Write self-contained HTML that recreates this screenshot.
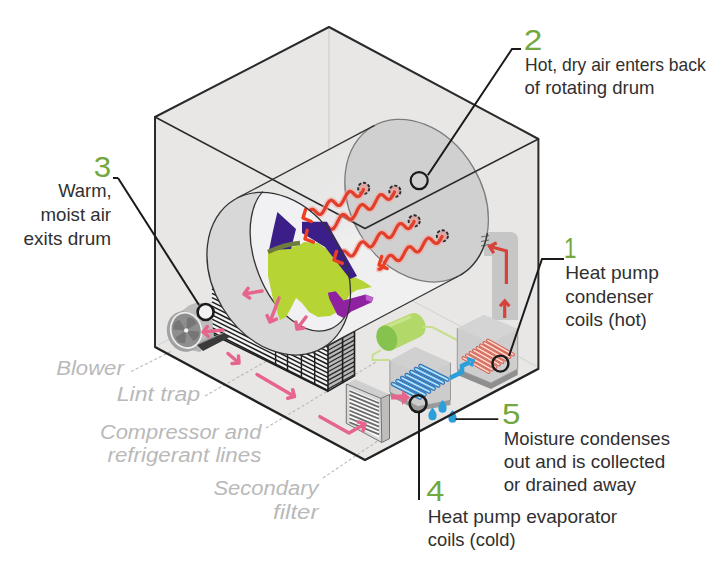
<!DOCTYPE html>
<html><head><meta charset="utf-8"><style>
html,body{margin:0;padding:0;background:#fff;width:720px;height:573px;overflow:hidden}
svg{display:block}
.t{font-family:"Liberation Sans",sans-serif;font-size:18.2px;fill:#303030}
.g{font-family:"Liberation Sans",sans-serif;font-size:30px;fill:#72a83f}
.i{font-family:"Liberation Sans",sans-serif;font-size:20px;font-style:italic;fill:#b9b9b9}
</style></head><body>
<svg width="720" height="573" viewBox="0 0 720 573">
<rect width="720" height="573" fill="#fff"/>
<polygon points="155,117 329,27 538.4,139 538.4,369 365,460 155,347" fill="#e8e7e6"/>
<g stroke="#d0d0d0" stroke-width="1" fill="none">
<polyline points="158,345 329,257 538,367"/>
</g>
<line x1="329" y1="27" x2="329" y2="150" stroke="#cfcfcf" stroke-width="1.2"/>
<g stroke="#b9b9b9" stroke-width="1.1" fill="none" stroke-dasharray="3 2.2">
<line x1="131" y1="371.5" x2="172" y2="351"/>
<line x1="205" y1="396" x2="272" y2="358"/>
<line x1="266" y1="428" x2="376" y2="362"/>
<line x1="323" y1="478" x2="385" y2="436"/>
</g>
<polygon points="212,287 328,344.4 328,391.2 212,334" fill="#f4f4f4"/>
<path d="M212 289.0 L328 347.3 M212 293.3 L328 351.6 M212 297.6 L328 355.9 M212 301.9 L328 360.2 M212 306.2 L328 364.5 M212 310.5 L328 368.8 M212 314.8 L328 373.1 M212 319.1 L328 377.4 M212 323.4 L328 381.7 M212 327.7 L328 386.0 M212 332.0 L328 390.3" stroke="#1e1e1e" stroke-width="1.5" fill="none"/>
<path d="M275.6 318.5 V365.4 M287.5 324.4 V371.2 M301.4 331.3 V378.1 M314.7 337.8 V384.6" stroke="#1e1e1e" stroke-width="1.4"/>
<polygon points="328,344.4 354.5,330.5 354.5,375.9 328,391.2" fill="#b9b9b9"/>
<path d="M328 346.0 L354.5 331.5 M328 350.3 L354.5 335.8 M328 354.6 L354.5 340.1 M328 358.9 L354.5 344.4 M328 363.2 L354.5 348.7 M328 367.5 L354.5 353.0 M328 371.8 L354.5 357.3 M328 376.1 L354.5 361.6 M328 380.4 L354.5 365.9 M328 384.7 L354.5 370.2 M328 389.0 L354.5 374.5" stroke="#2a2a2a" stroke-width="1.3" fill="none"/>
<path d="M328 344.4 V391.2 L354.5 375.9 V330.5 M342.6 337 V383.5" stroke="#1e1e1e" stroke-width="1.6" fill="none"/>
<path d="M212 334 L328 391.2" stroke="#1e1e1e" stroke-width="1.6"/>
<path d="M170 318 L193 304 Q203 300 210 310 L214 336 L200 352 L180 348 Z" fill="#b4b4b4"/>
<ellipse cx="197.00" cy="322.00" rx="15.50" ry="18.50" transform="rotate(-15.00 197.00 322.00)" fill="#bdbdbd"/>
<ellipse cx="184.50" cy="331.50" rx="17.50" ry="20.50" transform="rotate(-15.00 184.50 331.50)" fill="#a2a2a2"/>
<ellipse cx="186.20" cy="330.40" rx="15.30" ry="17.80" transform="rotate(-15.00 186.20 330.40)" fill="#8e8e8e" stroke="#ececec" stroke-width="1.8"/>
<g fill="#767676">
<path d="M186.2 330.4 l-3.5 -12.5 q7 -3 11 2.5 z" transform="rotate(20 186.2 330.4)"/>
<path d="M186.2 330.4 l-3.5 -12.5 q7 -3 11 2.5 z" transform="rotate(110 186.2 330.4)"/>
<path d="M186.2 330.4 l-3.5 -12.5 q7 -3 11 2.5 z" transform="rotate(200 186.2 330.4)"/>
<path d="M186.2 330.4 l-3.5 -12.5 q7 -3 11 2.5 z" transform="rotate(290 186.2 330.4)"/>
</g>
<circle cx="186.2" cy="330.4" r="2.2" fill="#f4f4f4"/>
<polygon points="197,345 224,333 230,337 203,351" fill="#3a3a3a"/>
<polygon points="197,345 224,333 226,331 199,343" fill="#8a8a8a"/>
<path d="M484 232 L510 232 Q518 232 518 240 L518 320 L492 320 L492 256 L484 256 Z" fill="#c6c6c6"/>
<defs><linearGradient id="dbody" gradientUnits="userSpaceOnUse" x1="236.6" y1="198.4" x2="320.8" y2="349.0"><stop offset="0" stop-color="#e6e6e5"/><stop offset="0.4" stop-color="#e9e9e9"/><stop offset="0.55" stop-color="#efeff0"/><stop offset="1" stop-color="#f0f0f1"/></linearGradient>
<clipPath id="cres"><polygon points="86,-54 438,434 0,573 0,-54"/></clipPath>
<clipPath id="outc"><ellipse cx="278.70" cy="273.70" rx="86.30" ry="65.70" transform="rotate(59.00 278.70 273.70)" /></clipPath></defs>
<polygon points="236.6,198.4 374.5,125.4 458.7,276.0 320.8,349.0" fill="url(#dbody)"/>
<ellipse cx="278.70" cy="273.70" rx="86.30" ry="65.70" transform="rotate(59.00 278.70 273.70)" fill="#f0f0f1"/>
<ellipse cx="416.60" cy="200.70" rx="86.30" ry="65.70" transform="rotate(59.00 416.60 200.70)" fill="#d0d0d0" stroke="#7c7c7c" stroke-width="1.3"/>
<path d="M481 237 l8 -1.5 M481 241.5 l8 -1.5 M481 246 l8 -1.5" stroke="#666" stroke-width="1"/>
<polyline points="459.1,275.8 459.6,275.5 460.1,275.3 460.6,275.0 461.0,274.7 461.5,274.4 462.0,274.1 462.5,273.8 463.0,273.4 463.5,273.1 463.9,272.8 464.4,272.5 464.9,272.1 465.3,271.8 465.8,271.4 466.2,271.1 466.7,270.7 467.1,270.4 467.6,270.0 468.0,269.6 468.5,269.2 468.9,268.9 469.3,268.5 469.7,268.1 470.2,267.7 470.6,267.3 471.0,266.9 471.4,266.4 471.8,266.0 472.2,265.6 472.6,265.2 473.0,264.7 473.4,264.3 473.7,263.8 474.1,263.4 474.5,262.9 474.8,262.5 475.2,262.0 475.6,261.5 475.9,261.1 476.3,260.6 476.6,260.1 477.0,259.6 477.3,259.1 477.6,258.6 478.0,258.1 478.3,257.6 478.6,257.1 478.9,256.6 479.2,256.1 479.5,255.6 479.8,255.0 480.1,254.5 480.4,254.0 480.7,253.4 481.0,252.9 481.2,252.4 481.5,251.8 481.8,251.2 482.0,250.7 482.3,250.1 482.5,249.6 482.8,249.0 483.0,248.4 483.3,247.8 483.5,247.3 483.7,246.7 483.9,246.1 484.1,245.5 484.3,244.9 484.5,244.3 484.7,243.7 484.9,243.1 485.1,242.5 485.3,241.9 485.5,241.3 485.7,240.7 485.8,240.0 486.0,239.4 486.1,238.8 486.3,238.2 486.4,237.5 486.6,236.9 486.7,236.3 486.8,235.6 487.0,235.0 487.1,234.3 487.2,233.7 487.3,233.0" stroke="#333" stroke-width="1.3" fill="none"/>
<line x1="236.6" y1="198.4" x2="374.5" y2="125.4" stroke="#333" stroke-width="1.3"/>
<line x1="320.8" y1="349.0" x2="458.7" y2="276.0" stroke="#333" stroke-width="1.3"/>
<circle cx="363.7" cy="188.3" r="5.6" fill="#d8a8a8" stroke="#2a2a2a" stroke-width="1.9" stroke-dasharray="3.2 1.8"/>
<circle cx="394.9" cy="191.2" r="5.6" fill="#d8a8a8" stroke="#2a2a2a" stroke-width="1.9" stroke-dasharray="3.2 1.8"/>
<circle cx="414.2" cy="220.9" r="5.6" fill="#d8a8a8" stroke="#2a2a2a" stroke-width="1.9" stroke-dasharray="3.2 1.8"/>
<circle cx="442.4" cy="235.8" r="5.6" fill="#d8a8a8" stroke="#2a2a2a" stroke-width="1.9" stroke-dasharray="3.2 1.8"/>
<g fill="none" stroke="#2a2a2a" stroke-linejoin="round" stroke-linecap="round">
<polyline points="155,347 155,117 329,27 538.4,139 538.4,369" stroke-width="2"/>
<polyline points="155,117 365,228.5 538.4,139" stroke-width="1.6"/>
</g>
<g fill="none" stroke="#d8403a" stroke-width="3.2" stroke-linecap="butt" stroke-linejoin="miter">
<path d="M506.4 284 L506.4 251 L492 247"/>
<path d="M493.8 253.1 L489.5 246.3 L496.7 242.7"/>
<path d="M504.7 318 L504.7 303"/>
<path d="M500.0 306.2 L504.7 301.0 L509.4 306.2"/>
</g>
<g fill="none" stroke="#f3a9a0" stroke-width="6.5" stroke-linecap="round" stroke-linejoin="round" opacity="0.55">
<path d="M363.5 189.5 L363.2 190.2 L362.8 190.8 L362.5 191.5 L362.2 192.1 L361.8 192.7 L361.5 193.3 L361.2 193.8 L360.8 194.3 L360.5 194.8 L360.2 195.2 L359.8 195.5 L359.5 195.9 L359.2 196.1 L358.8 196.3 L358.5 196.4 L358.2 196.5 L357.8 196.6 L357.5 196.5 L357.1 196.5 L356.8 196.3 L356.5 196.2 L356.1 196.0 L355.8 195.7 L355.5 195.4 L355.1 195.1 L354.8 194.8 L354.5 194.5 L354.1 194.1 L353.8 193.8 L353.5 193.4 L353.1 193.1 L352.8 192.8 L352.5 192.5 L352.1 192.2 L351.8 192.0 L351.5 191.8 L351.1 191.6 L350.8 191.5 L350.5 191.4 L350.1 191.4 L349.8 191.4 L349.5 191.5 L349.1 191.7 L348.8 191.9 L348.5 192.1 L348.1 192.5 L347.8 192.8 L347.5 193.2 L347.1 193.7 L346.8 194.2 L346.5 194.8 L346.1 195.3 L345.8 195.9 L345.5 196.6 L345.1 197.2 L344.8 197.9 L344.4 198.6 L344.1 199.2 L343.8 199.9 L343.4 200.5 L343.1 201.1 L342.8 201.7 L342.4 202.3 L342.1 202.8 L341.8 203.3 L341.4 203.8 L341.1 204.2 L340.8 204.5 L340.4 204.8 L340.1 205.1 L339.8 205.3 L339.4 205.4 L339.1 205.5 L338.8 205.5 L338.4 205.5 L338.1 205.4 L337.8 205.3 L337.4 205.1 L337.1 204.9 L336.8 204.6 L336.4 204.3 L336.1 204.0 L335.8 203.7 L335.4 203.4 L335.1 203.0 L334.8 202.7 L334.4 202.3 L334.1 202.0 L333.8 201.7 L333.4 201.4 L333.1 201.1 L332.7 200.9 L332.4 200.7 L332.1 200.5 L331.7 200.4 L331.4 200.4 L331.1 200.3 L330.7 200.4 L330.4 200.5 L330.1 200.7 L329.7 200.9 L329.4 201.1 L329.1 201.5 L328.7 201.8 L328.4 202.3 L328.1 202.7 L327.7 203.2 L327.4 203.8 L327.1 204.4 L326.7 205.0 L326.4 205.6 L326.1 206.3 L325.7 206.9 L325.4 207.6 L325.1 208.3 L324.7 208.9 L324.4 209.6 L324.1 210.2 L323.7 210.8 L323.4 211.4 L323.1 211.9 L322.7 212.4 L322.4 212.8 L322.1 213.2 L321.7 213.5 L321.4 213.8 L321.0 214.1 L320.7 214.3 L320.4 214.4 L320.0 214.4 L319.7 214.5 L319.4 214.4 L319.0 214.3 L318.7 214.2 L318.4 214.0 L318.0 213.8 L317.7 213.5 L317.4 213.2 L317.0 212.9 L316.7 212.6 L316.4 212.3 L316.0 211.9 L315.7 211.6 L315.4 211.2 L315.0 210.9 L314.7 210.6 L314.4 210.3 L314.0 210.0 L313.7 209.8 L313.4 209.6 L313.0 209.4 L312.7 209.3 L312.4 209.3 L312.0 209.3 L311.7 209.4 L311.4 209.5 L311.0 209.6 L310.7 209.9 L310.4 210.1 L310.0 210.5 L309.7 210.9 L309.4 211.3 L309.0 211.8 L308.7 212.3 L308.3 212.8 L308.0 213.4 L307.7 214.0 L307.3 214.7 L307.0 215.3 L306.7 216.0 L306.3 216.7 L306.0 217.3 L305.7 218.0 L305.3 218.6 L305.0 219.2 L304.7 219.8 L304.3 220.4 L304.0 220.9 L303.7 221.4 L303.3 221.8 L303.0 222.2"/>
<path d="M394.5 192.0 L394.2 192.7 L393.8 193.4 L393.5 194.0 L393.2 194.7 L392.8 195.3 L392.5 195.9 L392.2 196.4 L391.8 197.0 L391.5 197.4 L391.2 197.9 L390.8 198.2 L390.5 198.6 L390.2 198.8 L389.8 199.1 L389.5 199.2 L389.2 199.3 L388.8 199.4 L388.5 199.4 L388.2 199.3 L387.8 199.2 L387.5 199.1 L387.2 198.9 L386.8 198.6 L386.5 198.4 L386.2 198.1 L385.8 197.8 L385.5 197.5 L385.1 197.1 L384.8 196.8 L384.5 196.5 L384.1 196.2 L383.8 195.9 L383.5 195.6 L383.1 195.3 L382.8 195.1 L382.5 194.9 L382.1 194.8 L381.8 194.7 L381.5 194.6 L381.1 194.6 L380.8 194.7 L380.5 194.8 L380.1 194.9 L379.8 195.2 L379.5 195.4 L379.1 195.8 L378.8 196.2 L378.5 196.6 L378.1 197.1 L377.8 197.6 L377.5 198.2 L377.1 198.8 L376.8 199.4 L376.5 200.0 L376.1 200.7 L375.8 201.4 L375.5 202.1 L375.1 202.7 L374.8 203.4 L374.5 204.1 L374.1 204.7 L373.8 205.3 L373.5 205.9 L373.1 206.5 L372.8 207.0 L372.5 207.5 L372.1 207.9 L371.8 208.3 L371.5 208.6 L371.1 208.8 L370.8 209.1 L370.5 209.2 L370.1 209.3 L369.8 209.3 L369.5 209.3 L369.1 209.3 L368.8 209.2 L368.5 209.0 L368.1 208.8 L367.8 208.6 L367.4 208.3 L367.1 208.0 L366.8 207.7 L366.4 207.4 L366.1 207.1 L365.8 206.7 L365.4 206.4 L365.1 206.1 L364.8 205.8 L364.4 205.5 L364.1 205.3 L363.8 205.0 L363.4 204.9 L363.1 204.7 L362.8 204.6 L362.4 204.6 L362.1 204.6 L361.8 204.7 L361.4 204.8 L361.1 204.9 L360.8 205.2 L360.4 205.5 L360.1 205.8 L359.8 206.2 L359.4 206.6 L359.1 207.1 L358.8 207.6 L358.4 208.2 L358.1 208.8 L357.8 209.4 L357.4 210.1 L357.1 210.7 L356.8 211.4 L356.4 212.1 L356.1 212.8 L355.8 213.5 L355.4 214.1 L355.1 214.8 L354.8 215.4 L354.4 216.0 L354.1 216.5 L353.8 217.0 L353.4 217.5 L353.1 217.9 L352.8 218.3 L352.4 218.6 L352.1 218.8 L351.8 219.0 L351.4 219.2 L351.1 219.3 L350.8 219.3 L350.4 219.3 L350.1 219.2 L349.8 219.1 L349.4 219.0 L349.1 218.8 L348.7 218.5 L348.4 218.3 L348.1 218.0 L347.7 217.7 L347.4 217.4 L347.1 217.0 L346.7 216.7 L346.4 216.4 L346.1 216.0 L345.7 215.7 L345.4 215.5 L345.1 215.2 L344.7 215.0 L344.4 214.8 L344.1 214.7 L343.7 214.6 L343.4 214.6 L343.1 214.6 L342.7 214.6 L342.4 214.8 L342.1 214.9 L341.7 215.2 L341.4 215.5 L341.1 215.8 L340.7 216.2 L340.4 216.6 L340.1 217.1 L339.7 217.7 L339.4 218.2 L339.1 218.8 L338.7 219.5 L338.4 220.1 L338.1 220.8 L337.7 221.5 L337.4 222.2 L337.1 222.8 L336.7 223.5 L336.4 224.2 L336.1 224.8 L335.7 225.4 L335.4 226.0 L335.1 226.5 L334.7 227.0 L334.4 227.5 L334.1 227.9 L333.7 228.3 L333.4 228.6 L333.1 228.8 L332.7 229.0 L332.4 229.2 L332.1 229.3 L331.7 229.3 L331.4 229.3 L331.0 229.2 L330.7 229.1 L330.4 228.9 L330.0 228.7 L329.7 228.5 L329.4 228.2 L329.0 227.9 L328.7 227.6 L328.4 227.3 L328.0 227.0 L327.7 226.6 L327.4 226.3 L327.0 226.0 L326.7 225.7 L326.4 225.4 L326.0 225.2 L325.7 225.0 L325.4 224.8 L325.0 224.7 L324.7 224.6 L324.4 224.5 L324.0 224.6 L323.7 224.6 L323.4 224.8 L323.0 224.9 L322.7 225.2 L322.4 225.5 L322.0 225.8 L321.7 226.2 L321.4 226.7 L321.0 227.2 L320.7 227.7 L320.4 228.3 L320.0 228.9 L319.7 229.5 L319.4 230.2 L319.0 230.8 L318.7 231.5 L318.4 232.2 L318.0 232.9 L317.7 233.6 L317.4 234.2 L317.0 234.8 L316.7 235.5 L316.4 236.0 L316.0 236.6 L315.7 237.1 L315.4 237.5 L315.0 237.9 L314.7 238.3 L314.4 238.6 L314.0 238.8 L313.7 239.0 L313.3 239.2 L313.0 239.3 L312.7 239.3 L312.3 239.3 L312.0 239.2 L311.7 239.1 L311.3 238.9 L311.0 238.7 L310.7 238.4 L310.3 238.2 L310.0 237.9 L309.7 237.6 L309.3 237.2 L309.0 236.9 L308.7 236.6 L308.3 236.2 L308.0 235.9 L307.7 235.6 L307.3 235.4 L307.0 235.1 L306.7 234.9 L306.3 234.8 L306.0 234.6 L305.7 234.5 L305.3 234.5 L305.0 234.5"/>
<path d="M414.0 221.5 L413.7 222.2 L413.3 222.8 L413.0 223.5 L412.7 224.1 L412.3 224.7 L412.0 225.3 L411.7 225.8 L411.3 226.3 L411.0 226.8 L410.7 227.2 L410.3 227.6 L410.0 227.9 L409.7 228.1 L409.3 228.3 L409.0 228.5 L408.7 228.6 L408.3 228.6 L408.0 228.6 L407.7 228.5 L407.3 228.4 L407.0 228.3 L406.7 228.1 L406.3 227.8 L406.0 227.5 L405.7 227.2 L405.3 226.9 L405.0 226.6 L404.7 226.2 L404.3 225.9 L404.0 225.6 L403.7 225.2 L403.3 224.9 L403.0 224.6 L402.7 224.3 L402.3 224.1 L402.0 223.9 L401.7 223.7 L401.3 223.6 L401.0 223.5 L400.7 223.5 L400.3 223.6 L400.0 223.7 L399.7 223.8 L399.3 224.0 L399.0 224.3 L398.7 224.6 L398.3 224.9 L398.0 225.3 L397.7 225.8 L397.3 226.3 L397.0 226.9 L396.7 227.4 L396.3 228.0 L396.0 228.7 L395.7 229.3 L395.3 230.0 L395.0 230.6 L394.7 231.3 L394.3 232.0 L394.0 232.6 L393.7 233.2 L393.3 233.9 L393.0 234.4 L392.7 235.0 L392.3 235.5 L392.0 235.9 L391.7 236.4 L391.3 236.7 L391.0 237.0 L390.7 237.3 L390.3 237.5 L390.0 237.6 L389.7 237.7 L389.3 237.8 L389.0 237.7 L388.7 237.7 L388.3 237.6 L388.0 237.4 L387.7 237.2 L387.3 237.0 L387.0 236.7 L386.7 236.4 L386.3 236.1 L386.0 235.7 L385.7 235.4 L385.3 235.0 L385.0 234.7 L384.7 234.4 L384.3 234.0 L384.0 233.7 L383.7 233.5 L383.3 233.2 L383.0 233.0 L382.7 232.9 L382.3 232.8 L382.0 232.7 L381.7 232.7 L381.3 232.7 L381.0 232.8 L380.7 232.9 L380.3 233.1 L380.0 233.4 L379.7 233.7 L379.3 234.1 L379.0 234.5 L378.7 235.0 L378.3 235.5 L378.0 236.0 L377.7 236.6 L377.3 237.2 L377.0 237.8 L376.7 238.5 L376.3 239.1 L376.0 239.8 L375.7 240.5 L375.3 241.1 L375.0 241.8 L374.7 242.4 L374.3 243.0 L374.0 243.6 L373.7 244.1 L373.3 244.6 L373.0 245.1 L372.7 245.5 L372.3 245.9 L372.0 246.2 L371.7 246.4 L371.3 246.6 L371.0 246.8 L370.7 246.9 L370.3 246.9 L370.0 246.9 L369.7 246.8 L369.3 246.7 L369.0 246.5 L368.7 246.3 L368.3 246.1 L368.0 245.8 L367.7 245.5 L367.3 245.2 L367.0 244.9 L366.7 244.5 L366.3 244.2 L366.0 243.8 L365.7 243.5 L365.3 243.2 L365.0 242.9 L364.7 242.6 L364.3 242.4 L364.0 242.2 L363.7 242.0 L363.3 241.9 L363.0 241.8 L362.7 241.8 L362.3 241.8 L362.0 241.9 L361.7 242.1 L361.3 242.3 L361.0 242.5 L360.7 242.9 L360.3 243.2 L360.0 243.6 L359.7 244.1 L359.3 244.6 L359.0 245.1 L358.7 245.7 L358.3 246.3 L358.0 247.0 L357.7 247.6 L357.3 248.3 L357.0 248.9 L356.7 249.6 L356.3 250.3 L356.0 250.9 L355.7 251.5 L355.3 252.1 L355.0 252.7 L354.7 253.3 L354.3 253.8 L354.0 254.2 L353.7 254.6 L353.3 255.0 L353.0 255.3 L352.7 255.6 L352.3 255.8 L352.0 255.9 L351.7 256.0 L351.3 256.0 L351.0 256.0 L350.7 256.0 L350.3 255.8 L350.0 255.7 L349.7 255.5 L349.3 255.2 L349.0 255.0 L348.7 254.7 L348.3 254.4 L348.0 254.0 L347.7 253.7 L347.3 253.3 L347.0 253.0 L346.7 252.7 L346.3 252.3 L346.0 252.0 L345.7 251.8 L345.3 251.5 L345.0 251.3 L344.7 251.2 L344.3 251.0 L344.0 251.0 L343.7 251.0 L343.3 251.0 L343.0 251.1 L342.7 251.2 L342.3 251.4 L342.0 251.7 L341.7 252.0 L341.3 252.4 L341.0 252.8 L340.7 253.2 L340.3 253.7 L340.0 254.3 L339.7 254.9 L339.3 255.5 L339.0 256.1 L338.7 256.7 L338.3 257.4 L338.0 258.1 L337.7 258.7 L337.3 259.4 L337.0 260.0 L336.7 260.7 L336.3 261.3 L336.0 261.9 L335.7 262.4 L335.3 262.9 L335.0 263.4 L334.7 263.8 L334.3 264.1 L334.0 264.5"/>
<path d="M442.0 236.5 L441.7 237.2 L441.3 237.8 L441.0 238.4 L440.7 239.1 L440.3 239.7 L440.0 240.2 L439.7 240.8 L439.3 241.3 L439.0 241.7 L438.7 242.1 L438.3 242.5 L438.0 242.8 L437.7 243.0 L437.3 243.2 L437.0 243.3 L436.7 243.4 L436.3 243.5 L436.0 243.4 L435.7 243.3 L435.3 243.2 L435.0 243.1 L434.7 242.8 L434.3 242.6 L434.0 242.3 L433.7 242.0 L433.3 241.7 L433.0 241.3 L432.7 241.0 L432.3 240.6 L432.0 240.3 L431.7 239.9 L431.3 239.6 L431.0 239.3 L430.7 239.0 L430.3 238.8 L430.0 238.5 L429.7 238.4 L429.3 238.2 L429.0 238.2 L428.7 238.1 L428.3 238.2 L428.0 238.2 L427.7 238.4 L427.3 238.6 L427.0 238.8 L426.7 239.1 L426.3 239.5 L426.0 239.9 L425.7 240.3 L425.3 240.8 L425.0 241.4 L424.7 241.9 L424.3 242.5 L424.0 243.1 L423.7 243.8 L423.3 244.4 L423.0 245.1 L422.7 245.8 L422.3 246.4 L422.0 247.0 L421.7 247.7 L421.3 248.3 L421.0 248.8 L420.7 249.4 L420.3 249.9 L420.0 250.3 L419.7 250.7 L419.3 251.1 L419.0 251.4 L418.7 251.6 L418.3 251.8 L418.0 251.9 L417.7 252.0 L417.3 252.0 L417.0 252.0 L416.7 251.9 L416.3 251.8 L416.0 251.6 L415.7 251.4 L415.3 251.2 L415.0 250.9 L414.7 250.6 L414.3 250.3 L414.0 249.9 L413.7 249.6 L413.3 249.2 L413.0 248.9 L412.7 248.5 L412.3 248.2 L412.0 247.9 L411.7 247.6 L411.3 247.4 L411.0 247.1 L410.7 247.0 L410.3 246.8 L410.0 246.8 L409.7 246.7 L409.3 246.8 L409.0 246.8 L408.7 247.0 L408.3 247.2 L408.0 247.4 L407.7 247.7 L407.3 248.1 L407.0 248.5 L406.7 248.9 L406.3 249.4 L406.0 250.0 L405.7 250.5 L405.3 251.1 L405.0 251.7 L404.7 252.4 L404.3 253.0 L404.0 253.7 L403.7 254.3 L403.3 255.0 L403.0 255.6 L402.7 256.3 L402.3 256.9 L402.0 257.4 L401.7 258.0 L401.3 258.4 L401.0 258.9 L400.7 259.3 L400.3 259.7 L400.0 260.0 L399.7 260.2 L399.3 260.4 L399.0 260.5 L398.7 260.6 L398.3 260.6 L398.0 260.6 L397.7 260.5 L397.3 260.4 L397.0 260.2 L396.7 260.0 L396.3 259.8 L396.0 259.5 L395.7 259.2 L395.3 258.9 L395.0 258.5 L394.7 258.2 L394.3 257.8 L394.0 257.5 L393.7 257.1 L393.3 256.8 L393.0 256.5 L392.7 256.2 L392.3 255.9 L392.0 255.7 L391.7 255.6 L391.3 255.4 L391.0 255.4 L390.7 255.3 L390.3 255.4 L390.0 255.4 L389.7 255.6 L389.3 255.8 L389.0 256.0 L388.7 256.3 L388.3 256.7 L388.0 257.1 L387.7 257.5 L387.3 258.0 L387.0 258.6 L386.7 259.1 L386.3 259.7 L386.0 260.3 L385.7 261.0 L385.3 261.6 L385.0 262.3 L384.7 262.9 L384.3 263.6 L384.0 264.2 L383.7 264.9 L383.3 265.4 L383.0 266.0 L382.7 266.5 L382.3 267.0 L382.0 267.5 L381.7 267.9 L381.3 268.3 L381.0 268.6 L380.7 268.8 L380.3 269.0 L380.0 269.1 L379.7 269.2 L379.3 269.2 L379.0 269.2"/>
</g>
<g fill="none" stroke="#e23e2a" stroke-width="3.2" stroke-linecap="round" stroke-linejoin="round">
<path d="M363.5 189.5 L363.2 190.2 L362.8 190.8 L362.5 191.5 L362.2 192.1 L361.8 192.7 L361.5 193.3 L361.2 193.8 L360.8 194.3 L360.5 194.8 L360.2 195.2 L359.8 195.5 L359.5 195.9 L359.2 196.1 L358.8 196.3 L358.5 196.4 L358.2 196.5 L357.8 196.6 L357.5 196.5 L357.1 196.5 L356.8 196.3 L356.5 196.2 L356.1 196.0 L355.8 195.7 L355.5 195.4 L355.1 195.1 L354.8 194.8 L354.5 194.5 L354.1 194.1 L353.8 193.8 L353.5 193.4 L353.1 193.1 L352.8 192.8 L352.5 192.5 L352.1 192.2 L351.8 192.0 L351.5 191.8 L351.1 191.6 L350.8 191.5 L350.5 191.4 L350.1 191.4 L349.8 191.4 L349.5 191.5 L349.1 191.7 L348.8 191.9 L348.5 192.1 L348.1 192.5 L347.8 192.8 L347.5 193.2 L347.1 193.7 L346.8 194.2 L346.5 194.8 L346.1 195.3 L345.8 195.9 L345.5 196.6 L345.1 197.2 L344.8 197.9 L344.4 198.6 L344.1 199.2 L343.8 199.9 L343.4 200.5 L343.1 201.1 L342.8 201.7 L342.4 202.3 L342.1 202.8 L341.8 203.3 L341.4 203.8 L341.1 204.2 L340.8 204.5 L340.4 204.8 L340.1 205.1 L339.8 205.3 L339.4 205.4 L339.1 205.5 L338.8 205.5 L338.4 205.5 L338.1 205.4 L337.8 205.3 L337.4 205.1 L337.1 204.9 L336.8 204.6 L336.4 204.3 L336.1 204.0 L335.8 203.7 L335.4 203.4 L335.1 203.0 L334.8 202.7 L334.4 202.3 L334.1 202.0 L333.8 201.7 L333.4 201.4 L333.1 201.1 L332.7 200.9 L332.4 200.7 L332.1 200.5 L331.7 200.4 L331.4 200.4 L331.1 200.3 L330.7 200.4 L330.4 200.5 L330.1 200.7 L329.7 200.9 L329.4 201.1 L329.1 201.5 L328.7 201.8 L328.4 202.3 L328.1 202.7 L327.7 203.2 L327.4 203.8 L327.1 204.4 L326.7 205.0 L326.4 205.6 L326.1 206.3 L325.7 206.9 L325.4 207.6 L325.1 208.3 L324.7 208.9 L324.4 209.6 L324.1 210.2 L323.7 210.8 L323.4 211.4 L323.1 211.9 L322.7 212.4 L322.4 212.8 L322.1 213.2 L321.7 213.5 L321.4 213.8 L321.0 214.1 L320.7 214.3 L320.4 214.4 L320.0 214.4 L319.7 214.5 L319.4 214.4 L319.0 214.3 L318.7 214.2 L318.4 214.0 L318.0 213.8 L317.7 213.5 L317.4 213.2 L317.0 212.9 L316.7 212.6 L316.4 212.3 L316.0 211.9 L315.7 211.6 L315.4 211.2 L315.0 210.9 L314.7 210.6 L314.4 210.3 L314.0 210.0 L313.7 209.8 L313.4 209.6 L313.0 209.4 L312.7 209.3 L312.4 209.3 L312.0 209.3 L311.7 209.4 L311.4 209.5 L311.0 209.6 L310.7 209.9 L310.4 210.1 L310.0 210.5 L309.7 210.9 L309.4 211.3 L309.0 211.8 L308.7 212.3 L308.3 212.8 L308.0 213.4 L307.7 214.0 L307.3 214.7 L307.0 215.3 L306.7 216.0 L306.3 216.7 L306.0 217.3 L305.7 218.0 L305.3 218.6 L305.0 219.2 L304.7 219.8 L304.3 220.4 L304.0 220.9 L303.7 221.4 L303.3 221.8 L303.0 222.2"/>
<path d="M394.5 192.0 L394.2 192.7 L393.8 193.4 L393.5 194.0 L393.2 194.7 L392.8 195.3 L392.5 195.9 L392.2 196.4 L391.8 197.0 L391.5 197.4 L391.2 197.9 L390.8 198.2 L390.5 198.6 L390.2 198.8 L389.8 199.1 L389.5 199.2 L389.2 199.3 L388.8 199.4 L388.5 199.4 L388.2 199.3 L387.8 199.2 L387.5 199.1 L387.2 198.9 L386.8 198.6 L386.5 198.4 L386.2 198.1 L385.8 197.8 L385.5 197.5 L385.1 197.1 L384.8 196.8 L384.5 196.5 L384.1 196.2 L383.8 195.9 L383.5 195.6 L383.1 195.3 L382.8 195.1 L382.5 194.9 L382.1 194.8 L381.8 194.7 L381.5 194.6 L381.1 194.6 L380.8 194.7 L380.5 194.8 L380.1 194.9 L379.8 195.2 L379.5 195.4 L379.1 195.8 L378.8 196.2 L378.5 196.6 L378.1 197.1 L377.8 197.6 L377.5 198.2 L377.1 198.8 L376.8 199.4 L376.5 200.0 L376.1 200.7 L375.8 201.4 L375.5 202.1 L375.1 202.7 L374.8 203.4 L374.5 204.1 L374.1 204.7 L373.8 205.3 L373.5 205.9 L373.1 206.5 L372.8 207.0 L372.5 207.5 L372.1 207.9 L371.8 208.3 L371.5 208.6 L371.1 208.8 L370.8 209.1 L370.5 209.2 L370.1 209.3 L369.8 209.3 L369.5 209.3 L369.1 209.3 L368.8 209.2 L368.5 209.0 L368.1 208.8 L367.8 208.6 L367.4 208.3 L367.1 208.0 L366.8 207.7 L366.4 207.4 L366.1 207.1 L365.8 206.7 L365.4 206.4 L365.1 206.1 L364.8 205.8 L364.4 205.5 L364.1 205.3 L363.8 205.0 L363.4 204.9 L363.1 204.7 L362.8 204.6 L362.4 204.6 L362.1 204.6 L361.8 204.7 L361.4 204.8 L361.1 204.9 L360.8 205.2 L360.4 205.5 L360.1 205.8 L359.8 206.2 L359.4 206.6 L359.1 207.1 L358.8 207.6 L358.4 208.2 L358.1 208.8 L357.8 209.4 L357.4 210.1 L357.1 210.7 L356.8 211.4 L356.4 212.1 L356.1 212.8 L355.8 213.5 L355.4 214.1 L355.1 214.8 L354.8 215.4 L354.4 216.0 L354.1 216.5 L353.8 217.0 L353.4 217.5 L353.1 217.9 L352.8 218.3 L352.4 218.6 L352.1 218.8 L351.8 219.0 L351.4 219.2 L351.1 219.3 L350.8 219.3 L350.4 219.3 L350.1 219.2 L349.8 219.1 L349.4 219.0 L349.1 218.8 L348.7 218.5 L348.4 218.3 L348.1 218.0 L347.7 217.7 L347.4 217.4 L347.1 217.0 L346.7 216.7 L346.4 216.4 L346.1 216.0 L345.7 215.7 L345.4 215.5 L345.1 215.2 L344.7 215.0 L344.4 214.8 L344.1 214.7 L343.7 214.6 L343.4 214.6 L343.1 214.6 L342.7 214.6 L342.4 214.8 L342.1 214.9 L341.7 215.2 L341.4 215.5 L341.1 215.8 L340.7 216.2 L340.4 216.6 L340.1 217.1 L339.7 217.7 L339.4 218.2 L339.1 218.8 L338.7 219.5 L338.4 220.1 L338.1 220.8 L337.7 221.5 L337.4 222.2 L337.1 222.8 L336.7 223.5 L336.4 224.2 L336.1 224.8 L335.7 225.4 L335.4 226.0 L335.1 226.5 L334.7 227.0 L334.4 227.5 L334.1 227.9 L333.7 228.3 L333.4 228.6 L333.1 228.8 L332.7 229.0 L332.4 229.2 L332.1 229.3 L331.7 229.3 L331.4 229.3 L331.0 229.2 L330.7 229.1 L330.4 228.9 L330.0 228.7 L329.7 228.5 L329.4 228.2 L329.0 227.9 L328.7 227.6 L328.4 227.3 L328.0 227.0 L327.7 226.6 L327.4 226.3 L327.0 226.0 L326.7 225.7 L326.4 225.4 L326.0 225.2 L325.7 225.0 L325.4 224.8 L325.0 224.7 L324.7 224.6 L324.4 224.5 L324.0 224.6 L323.7 224.6 L323.4 224.8 L323.0 224.9 L322.7 225.2 L322.4 225.5 L322.0 225.8 L321.7 226.2 L321.4 226.7 L321.0 227.2 L320.7 227.7 L320.4 228.3 L320.0 228.9 L319.7 229.5 L319.4 230.2 L319.0 230.8 L318.7 231.5 L318.4 232.2 L318.0 232.9 L317.7 233.6 L317.4 234.2 L317.0 234.8 L316.7 235.5 L316.4 236.0 L316.0 236.6 L315.7 237.1 L315.4 237.5 L315.0 237.9 L314.7 238.3 L314.4 238.6 L314.0 238.8 L313.7 239.0 L313.3 239.2 L313.0 239.3 L312.7 239.3 L312.3 239.3 L312.0 239.2 L311.7 239.1 L311.3 238.9 L311.0 238.7 L310.7 238.4 L310.3 238.2 L310.0 237.9 L309.7 237.6 L309.3 237.2 L309.0 236.9 L308.7 236.6 L308.3 236.2 L308.0 235.9 L307.7 235.6 L307.3 235.4 L307.0 235.1 L306.7 234.9 L306.3 234.8 L306.0 234.6 L305.7 234.5 L305.3 234.5 L305.0 234.5"/>
<path d="M414.0 221.5 L413.7 222.2 L413.3 222.8 L413.0 223.5 L412.7 224.1 L412.3 224.7 L412.0 225.3 L411.7 225.8 L411.3 226.3 L411.0 226.8 L410.7 227.2 L410.3 227.6 L410.0 227.9 L409.7 228.1 L409.3 228.3 L409.0 228.5 L408.7 228.6 L408.3 228.6 L408.0 228.6 L407.7 228.5 L407.3 228.4 L407.0 228.3 L406.7 228.1 L406.3 227.8 L406.0 227.5 L405.7 227.2 L405.3 226.9 L405.0 226.6 L404.7 226.2 L404.3 225.9 L404.0 225.6 L403.7 225.2 L403.3 224.9 L403.0 224.6 L402.7 224.3 L402.3 224.1 L402.0 223.9 L401.7 223.7 L401.3 223.6 L401.0 223.5 L400.7 223.5 L400.3 223.6 L400.0 223.7 L399.7 223.8 L399.3 224.0 L399.0 224.3 L398.7 224.6 L398.3 224.9 L398.0 225.3 L397.7 225.8 L397.3 226.3 L397.0 226.9 L396.7 227.4 L396.3 228.0 L396.0 228.7 L395.7 229.3 L395.3 230.0 L395.0 230.6 L394.7 231.3 L394.3 232.0 L394.0 232.6 L393.7 233.2 L393.3 233.9 L393.0 234.4 L392.7 235.0 L392.3 235.5 L392.0 235.9 L391.7 236.4 L391.3 236.7 L391.0 237.0 L390.7 237.3 L390.3 237.5 L390.0 237.6 L389.7 237.7 L389.3 237.8 L389.0 237.7 L388.7 237.7 L388.3 237.6 L388.0 237.4 L387.7 237.2 L387.3 237.0 L387.0 236.7 L386.7 236.4 L386.3 236.1 L386.0 235.7 L385.7 235.4 L385.3 235.0 L385.0 234.7 L384.7 234.4 L384.3 234.0 L384.0 233.7 L383.7 233.5 L383.3 233.2 L383.0 233.0 L382.7 232.9 L382.3 232.8 L382.0 232.7 L381.7 232.7 L381.3 232.7 L381.0 232.8 L380.7 232.9 L380.3 233.1 L380.0 233.4 L379.7 233.7 L379.3 234.1 L379.0 234.5 L378.7 235.0 L378.3 235.5 L378.0 236.0 L377.7 236.6 L377.3 237.2 L377.0 237.8 L376.7 238.5 L376.3 239.1 L376.0 239.8 L375.7 240.5 L375.3 241.1 L375.0 241.8 L374.7 242.4 L374.3 243.0 L374.0 243.6 L373.7 244.1 L373.3 244.6 L373.0 245.1 L372.7 245.5 L372.3 245.9 L372.0 246.2 L371.7 246.4 L371.3 246.6 L371.0 246.8 L370.7 246.9 L370.3 246.9 L370.0 246.9 L369.7 246.8 L369.3 246.7 L369.0 246.5 L368.7 246.3 L368.3 246.1 L368.0 245.8 L367.7 245.5 L367.3 245.2 L367.0 244.9 L366.7 244.5 L366.3 244.2 L366.0 243.8 L365.7 243.5 L365.3 243.2 L365.0 242.9 L364.7 242.6 L364.3 242.4 L364.0 242.2 L363.7 242.0 L363.3 241.9 L363.0 241.8 L362.7 241.8 L362.3 241.8 L362.0 241.9 L361.7 242.1 L361.3 242.3 L361.0 242.5 L360.7 242.9 L360.3 243.2 L360.0 243.6 L359.7 244.1 L359.3 244.6 L359.0 245.1 L358.7 245.7 L358.3 246.3 L358.0 247.0 L357.7 247.6 L357.3 248.3 L357.0 248.9 L356.7 249.6 L356.3 250.3 L356.0 250.9 L355.7 251.5 L355.3 252.1 L355.0 252.7 L354.7 253.3 L354.3 253.8 L354.0 254.2 L353.7 254.6 L353.3 255.0 L353.0 255.3 L352.7 255.6 L352.3 255.8 L352.0 255.9 L351.7 256.0 L351.3 256.0 L351.0 256.0 L350.7 256.0 L350.3 255.8 L350.0 255.7 L349.7 255.5 L349.3 255.2 L349.0 255.0 L348.7 254.7 L348.3 254.4 L348.0 254.0 L347.7 253.7 L347.3 253.3 L347.0 253.0 L346.7 252.7 L346.3 252.3 L346.0 252.0 L345.7 251.8 L345.3 251.5 L345.0 251.3 L344.7 251.2 L344.3 251.0 L344.0 251.0 L343.7 251.0 L343.3 251.0 L343.0 251.1 L342.7 251.2 L342.3 251.4 L342.0 251.7 L341.7 252.0 L341.3 252.4 L341.0 252.8 L340.7 253.2 L340.3 253.7 L340.0 254.3 L339.7 254.9 L339.3 255.5 L339.0 256.1 L338.7 256.7 L338.3 257.4 L338.0 258.1 L337.7 258.7 L337.3 259.4 L337.0 260.0 L336.7 260.7 L336.3 261.3 L336.0 261.9 L335.7 262.4 L335.3 262.9 L335.0 263.4 L334.7 263.8 L334.3 264.1 L334.0 264.5"/>
<path d="M442.0 236.5 L441.7 237.2 L441.3 237.8 L441.0 238.4 L440.7 239.1 L440.3 239.7 L440.0 240.2 L439.7 240.8 L439.3 241.3 L439.0 241.7 L438.7 242.1 L438.3 242.5 L438.0 242.8 L437.7 243.0 L437.3 243.2 L437.0 243.3 L436.7 243.4 L436.3 243.5 L436.0 243.4 L435.7 243.3 L435.3 243.2 L435.0 243.1 L434.7 242.8 L434.3 242.6 L434.0 242.3 L433.7 242.0 L433.3 241.7 L433.0 241.3 L432.7 241.0 L432.3 240.6 L432.0 240.3 L431.7 239.9 L431.3 239.6 L431.0 239.3 L430.7 239.0 L430.3 238.8 L430.0 238.5 L429.7 238.4 L429.3 238.2 L429.0 238.2 L428.7 238.1 L428.3 238.2 L428.0 238.2 L427.7 238.4 L427.3 238.6 L427.0 238.8 L426.7 239.1 L426.3 239.5 L426.0 239.9 L425.7 240.3 L425.3 240.8 L425.0 241.4 L424.7 241.9 L424.3 242.5 L424.0 243.1 L423.7 243.8 L423.3 244.4 L423.0 245.1 L422.7 245.8 L422.3 246.4 L422.0 247.0 L421.7 247.7 L421.3 248.3 L421.0 248.8 L420.7 249.4 L420.3 249.9 L420.0 250.3 L419.7 250.7 L419.3 251.1 L419.0 251.4 L418.7 251.6 L418.3 251.8 L418.0 251.9 L417.7 252.0 L417.3 252.0 L417.0 252.0 L416.7 251.9 L416.3 251.8 L416.0 251.6 L415.7 251.4 L415.3 251.2 L415.0 250.9 L414.7 250.6 L414.3 250.3 L414.0 249.9 L413.7 249.6 L413.3 249.2 L413.0 248.9 L412.7 248.5 L412.3 248.2 L412.0 247.9 L411.7 247.6 L411.3 247.4 L411.0 247.1 L410.7 247.0 L410.3 246.8 L410.0 246.8 L409.7 246.7 L409.3 246.8 L409.0 246.8 L408.7 247.0 L408.3 247.2 L408.0 247.4 L407.7 247.7 L407.3 248.1 L407.0 248.5 L406.7 248.9 L406.3 249.4 L406.0 250.0 L405.7 250.5 L405.3 251.1 L405.0 251.7 L404.7 252.4 L404.3 253.0 L404.0 253.7 L403.7 254.3 L403.3 255.0 L403.0 255.6 L402.7 256.3 L402.3 256.9 L402.0 257.4 L401.7 258.0 L401.3 258.4 L401.0 258.9 L400.7 259.3 L400.3 259.7 L400.0 260.0 L399.7 260.2 L399.3 260.4 L399.0 260.5 L398.7 260.6 L398.3 260.6 L398.0 260.6 L397.7 260.5 L397.3 260.4 L397.0 260.2 L396.7 260.0 L396.3 259.8 L396.0 259.5 L395.7 259.2 L395.3 258.9 L395.0 258.5 L394.7 258.2 L394.3 257.8 L394.0 257.5 L393.7 257.1 L393.3 256.8 L393.0 256.5 L392.7 256.2 L392.3 255.9 L392.0 255.7 L391.7 255.6 L391.3 255.4 L391.0 255.4 L390.7 255.3 L390.3 255.4 L390.0 255.4 L389.7 255.6 L389.3 255.8 L389.0 256.0 L388.7 256.3 L388.3 256.7 L388.0 257.1 L387.7 257.5 L387.3 258.0 L387.0 258.6 L386.7 259.1 L386.3 259.7 L386.0 260.3 L385.7 261.0 L385.3 261.6 L385.0 262.3 L384.7 262.9 L384.3 263.6 L384.0 264.2 L383.7 264.9 L383.3 265.4 L383.0 266.0 L382.7 266.5 L382.3 267.0 L382.0 267.5 L381.7 267.9 L381.3 268.3 L381.0 268.6 L380.7 268.8 L380.3 269.0 L380.0 269.1 L379.7 269.2 L379.3 269.2 L379.0 269.2"/>
</g>
<g clip-path="url(#cres)"><ellipse cx="278.70" cy="273.70" rx="86.30" ry="65.70" transform="rotate(59.00 278.70 273.70)" fill="#d8d8d8"/></g>
<g clip-path="url(#outc)"><ellipse cx="301.80" cy="256.80" rx="46.40" ry="77.60" transform="rotate(-21.30 301.80 256.80)" fill="#f1f0f3"/></g>
<g clip-path="url(#cres)"><ellipse cx="301.80" cy="256.80" rx="46.40" ry="77.60" transform="rotate(-21.30 301.80 256.80)" fill="none" stroke="#333" stroke-width="1.3"/></g>
<polygon points="268,251 282,249 299,245.6 304,242 318,243 336,256 345,265 352,276 363,281 372,287 357,290 350,294 345,303 341,310 330,316 318,317 309,312 302,303 296,298 291,308 286,317 280,320 273,299 268,276" fill="#b6d433"/>
<polygon points="277.4,212 296,229 291,249 269,250 273,231" fill="#3b1e87"/>
<path d="M268 252 Q285 244 300 243" stroke="#6e7d3e" stroke-width="4.5" fill="none"/>
<polygon points="302,221.7 327,221.7 332,232 357,276 350,279 325,247 302,233" fill="#3b1e87"/>
<polygon points="327.8,292.8 335.7,291.2 343.5,300.6 365.5,294.4 373.4,297.5 371.8,302.2 351.4,311.6 343.5,318 337.3,314.8 329.4,299.1" fill="#8e22a0"/>
<polygon points="365.5,294.4 373.4,297.5 371.8,302.2 366,300" fill="#c060d0"/>
<g fill="none" stroke="#ee3f22" stroke-width="3.4" stroke-linecap="round" stroke-linejoin="round">
<path d="M311.3 221.5 L303.0 218.0 L305.6 209.4"/>
<path d="M313.4 242.1 L305.0 239.0 L307.2 230.3"/>
<path d="M342.3 263.4 L334.0 260.0 L336.5 251.4"/>
<path d="M387.2 268.6 L379.0 265.0 L381.7 256.4"/>
</g>
<ellipse cx="278.70" cy="273.70" rx="86.30" ry="65.70" transform="rotate(59.00 278.70 273.70)" fill="none" stroke="#333" stroke-width="1.3"/>
<g fill="none" stroke="#e6658d" stroke-width="3.5" stroke-linecap="round" stroke-linejoin="round">
<path d="M262.0 291.0 L244.0 294.0 M249.7 298.1 L244.0 294.0 L248.1 288.3"/>
<path d="M279.0 298.0 L270.0 322.0 M276.4 319.1 L270.0 322.0 L267.1 315.6"/>
<path d="M306.0 317.0 L297.0 329.0 M303.9 328.0 L297.0 329.0 L296.0 322.1"/>
<path d="M223.0 330.0 L203.0 332.0 M208.4 336.4 L203.0 332.0 L207.4 326.6"/>
<path d="M228.0 353.5 L239.0 363.0 M238.5 356.0 L239.0 363.0 L232.0 363.5"/>
<path d="M257.0 374.5 L294.5 396.5 M292.7 389.7 L294.5 396.5 L287.7 398.3"/>
</g>
<polygon points="346.3,384 355,379.2 389.5,394.5 380.9,398.4" fill="#cfcfcf"/>
<polygon points="380.9,398.4 389.5,394.5 389.5,438.7 381.8,442.5" fill="#bdbdbd"/>
<polygon points="346.3,384 380.9,398.4 381.8,442.5 346.3,423.3" fill="#d9d9d9"/>
<polygon points="349.5,389 378.5,401 379,438 349.5,422" fill="#fafafa"/>
<path d="M349.5 391.0 L379 403.2 M349.5 394.9 L379 407.1 M349.5 398.8 L379 411.0 M349.5 402.7 L379 414.9 M349.5 406.6 L379 418.8 M349.5 410.5 L379 422.7 M349.5 414.4 L379 426.6 M349.5 418.3 L379 430.5 M349.5 422.2 L379 434.4" stroke="#6a6a6a" stroke-width="1.7" fill="none"/>
<path d="M346.3 384 L380.9 398.4 L381.8 442.5 L346.3 423.3 Z M380.9 398.4 L389.5 394.5 L389.5 438.7 L381.8 442.5" stroke="#666" stroke-width="0.9" fill="none"/>
<g fill="none" stroke="#e6658d" stroke-width="3.5" stroke-linecap="round" stroke-linejoin="round">
<path d="M320 416.7 L349 433 L363 425"/>
<path d="M358.3 422.0 L365.0 424.0 L363.0 430.7"/>
</g>
<path d="M381 326.5 L411 313.5 L420 337 L390.5 351 Z" fill="#b3d86a"/>
<ellipse cx="415.50" cy="325.20" rx="9.80" ry="12.40" transform="rotate(-22.00 415.50 325.20)" fill="#b3d86a"/>
<path d="M384 328 L411 316.5" stroke="#c9e58a" stroke-width="3" fill="none"/>
<ellipse cx="386.80" cy="338.20" rx="10.20" ry="13.00" transform="rotate(-22.00 386.80 338.20)" fill="#86c24e"/>
<path d="M423 327 L432 327 L457 340 M381 350 L372.5 355 L372.5 360 L390 360" stroke="#c5df8c" stroke-width="2" fill="none"/>
<polygon points="389.9,360.7 415,347 450.5,362.8 450.5,400.4 418,406.7 389.9,392" fill="#c6c6c6" fill-opacity="0.8"/>
<polygon points="389.9,360.7 415,347 450.5,362.8 425,376" fill="#d0d0d0"/>
<path d="M420.5 366.0 L447.5 379.5 M415.9 369.0 L442.9 382.5 M411.3 372.0 L438.3 385.5 M406.7 375.0 L433.7 388.5 M402.1 378.0 L429.1 391.5 M397.5 381.0 L424.5 394.5 M392.9 384.0 L419.9 397.5" stroke="#2a5cab" stroke-width="4.4" fill="none" stroke-linecap="round"/>
<path d="M420.5 366.0 L447.5 379.5 M415.9 369.0 L442.9 382.5 M411.3 372.0 L438.3 385.5 M406.7 375.0 L433.7 388.5 M402.1 378.0 L429.1 391.5 M397.5 381.0 L424.5 394.5 M392.9 384.0 L419.9 397.5" stroke="#52b2e6" stroke-width="3" fill="none" stroke-linecap="round"/>
<path d="M420.5 366.0 L447.5 379.5 M415.9 369.0 L442.9 382.5 M411.3 372.0 L438.3 385.5 M406.7 375.0 L433.7 388.5 M402.1 378.0 L429.1 391.5 M397.5 381.0 L424.5 394.5 M392.9 384.0 L419.9 397.5" stroke="#e6f4fb" stroke-width="1" fill="none" stroke-linecap="round"/>
<polygon points="389.9,392 418,406.7 450.5,400.4 450.5,405 418,411 389.9,396" fill="#9a9a9a"/>
<path d="M389.9 360.7 L389.9 392 L418 406.7 L450.5 400.4 L450.5 362.8" stroke="#999" stroke-width="1" fill="none"/>
<path d="M391 397 L405 397" stroke="#e6658d" stroke-width="5" fill="none"/>
<path d="M402 390 L410 397.5 L402 405 Z" fill="#e6658d"/>
<polygon points="457.3,328.3 484,315 517.7,329 517.7,369 491,383 457.3,369" fill="#c8c8c8" fill-opacity="0.8"/>
<polygon points="457.3,328.3 484,315 517.7,329 491.8,342.4" fill="#d4d4d4"/>
<path d="M488.0 340.5 L513.0 354.5 M484.5 343.0 L509.5 357.0 M481.0 345.5 L506.0 359.5 M477.5 348.0 L502.5 362.0 M474.0 350.5 L499.0 364.5 M470.5 353.0 L495.5 367.0 M467.0 355.5 L492.0 369.5 M463.5 358.0 L488.5 372.0" stroke="#c8473a" stroke-width="3.6" fill="none" stroke-linecap="round"/>
<path d="M488.0 340.5 L513.0 354.5 M484.5 343.0 L509.5 357.0 M481.0 345.5 L506.0 359.5 M477.5 348.0 L502.5 362.0 M474.0 350.5 L499.0 364.5 M470.5 353.0 L495.5 367.0 M467.0 355.5 L492.0 369.5 M463.5 358.0 L488.5 372.0" stroke="#f5a08e" stroke-width="2.4" fill="none" stroke-linecap="round"/>
<path d="M488.0 340.5 L513.0 354.5 M484.5 343.0 L509.5 357.0 M481.0 345.5 L506.0 359.5 M477.5 348.0 L502.5 362.0 M474.0 350.5 L499.0 364.5 M470.5 353.0 L495.5 367.0 M467.0 355.5 L492.0 369.5 M463.5 358.0 L488.5 372.0" stroke="#fff0ea" stroke-width="0.9" fill="none" stroke-linecap="round"/>
<polygon points="457.3,369 491,383 517.7,369 517.7,375 491,389 457.3,375" fill="#8f8f8f"/>
<path d="M457.3 328.3 L457.3 369 L491 383 L517.7 369 L517.7 329" stroke="#999" stroke-width="1" fill="none"/>
<path d="M450 378 L462 372 L462 366 L470 362" stroke="#2b9fd9" stroke-width="4.5" fill="none"/>
<path d="M467.3 358.6 L473.0 360.5 L471.1 366.2" stroke="#2b9fd9" stroke-width="3.5" fill="none"/>
<path d="M432.5 407.5 q-5 6 -4 8.8 a4 4 0 0 0 8 0 q1 -2.8 -4 -8.8 z" fill="#2b9fd9"/>
<path d="M442.5 400.0 q-5 6 -4 8.8 a4 4 0 0 0 8 0 q1 -2.8 -4 -8.8 z" fill="#2b9fd9"/>
<path d="M452.5 410.0 q-5 6 -4 8.8 a4 4 0 0 0 8 0 q1 -2.8 -4 -8.8 z" fill="#2b9fd9"/>
<polyline points="155,347 365,460 538,369" stroke="#222" stroke-width="2.4" fill="none" stroke-linejoin="round"/>
<g stroke="#1a1a1a" stroke-width="2" fill="none">
<polyline points="521,49 512,49 427.8,175.2"/>
<polyline points="118,178 113,178"/><line x1="118" y1="178" x2="199" y2="305"/>
<polyline points="564,259 542,259 509,356"/>
<line x1="419" y1="412" x2="419" y2="500"/>
</g>
<line x1="455.6" y1="419.2" x2="498.3" y2="419.2" stroke="#1a1a1a" stroke-width="1.8"/>
<circle cx="419.2" cy="180.6" r="8.5" fill="none" stroke="#1a1a1a" stroke-width="2.2"/>
<circle cx="205.6" cy="312" r="8" fill="#f2f2f2" stroke="#1a1a1a" stroke-width="2.6"/>
<circle cx="500.4" cy="363.6" r="8" fill="none" stroke="#1a1a1a" stroke-width="2.4"/>
<circle cx="418.1" cy="403.6" r="8.4" fill="none" stroke="#1a1a1a" stroke-width="2.6"/>
<!-- TEXT -->
<text class="g" x="525.0" y="49.6" transform="matrix(1.114,0,0,1,-61.11,0)">2</text>
<text class="t" x="525.1" y="70.6" textLength="180.7" lengthAdjust="spacingAndGlyphs">Hot, dry air enters back</text>
<text class="t" x="524.5" y="94.4" textLength="130.0" lengthAdjust="spacingAndGlyphs">of rotating drum</text>
<text class="g" x="95.4" y="176.6" transform="matrix(1.043,0,0,1,-5.76,0)">3</text>
<text class="t" x="58.2" y="196.9" textLength="53.5" lengthAdjust="spacingAndGlyphs">Warm,</text>
<text class="t" x="40.5" y="220.6" textLength="70.5" lengthAdjust="spacingAndGlyphs">moist air</text>
<text class="t" x="23.5" y="244.7" textLength="87.5" lengthAdjust="spacingAndGlyphs">exits drum</text>
<text class="g" x="565.8" y="258.3" transform="matrix(0.746,0,0,1,141.98,0)">1</text>
<text class="t" x="565.3" y="279.2" textLength="93.5" lengthAdjust="spacingAndGlyphs">Heat pump</text>
<text class="t" x="565.3" y="302.8" textLength="88.0" lengthAdjust="spacingAndGlyphs">condenser</text>
<text class="t" x="565.3" y="325.6" textLength="81.6" lengthAdjust="spacingAndGlyphs">coils (hot)</text>
<text class="g" x="504.2" y="424.2" transform="matrix(1.107,0,0,1,-56.01,0)">5</text>
<text class="t" x="503.7" y="444.5" textLength="166.3" lengthAdjust="spacingAndGlyphs">Moisture condenses</text>
<text class="t" x="503.7" y="467.8" textLength="161.6" lengthAdjust="spacingAndGlyphs">out and is collected</text>
<text class="t" x="503.7" y="491" textLength="132.4" lengthAdjust="spacingAndGlyphs">or drained away</text>
<text class="g" x="426.7" y="500.7" transform="matrix(1.081,0,0,1,-34.99,0)">4</text>
<text class="t" x="427.8" y="523.3" textLength="189.4" lengthAdjust="spacingAndGlyphs">Heat pump evaporator</text>
<text class="t" x="427.8" y="546" textLength="87.7" lengthAdjust="spacingAndGlyphs">coils (cold)</text>

<text class="i" x="56.2" y="375.2" textLength="67.6" lengthAdjust="spacingAndGlyphs">Blower</text>
<text class="i" x="116.7" y="401.3" textLength="83.5" lengthAdjust="spacingAndGlyphs">Lint trap</text>
<text class="i" x="99.9" y="438.6" textLength="161.4" lengthAdjust="spacingAndGlyphs">Compressor and</text>
<text class="i" x="107.5" y="462" textLength="153.8" lengthAdjust="spacingAndGlyphs">refrigerant lines</text>
<text class="i" x="213.4" y="495" textLength="105.1" lengthAdjust="spacingAndGlyphs">Secondary</text>
<text class="i" x="273.1" y="518.6" textLength="45.4" lengthAdjust="spacingAndGlyphs">filter</text>

</svg>
</body></html>
